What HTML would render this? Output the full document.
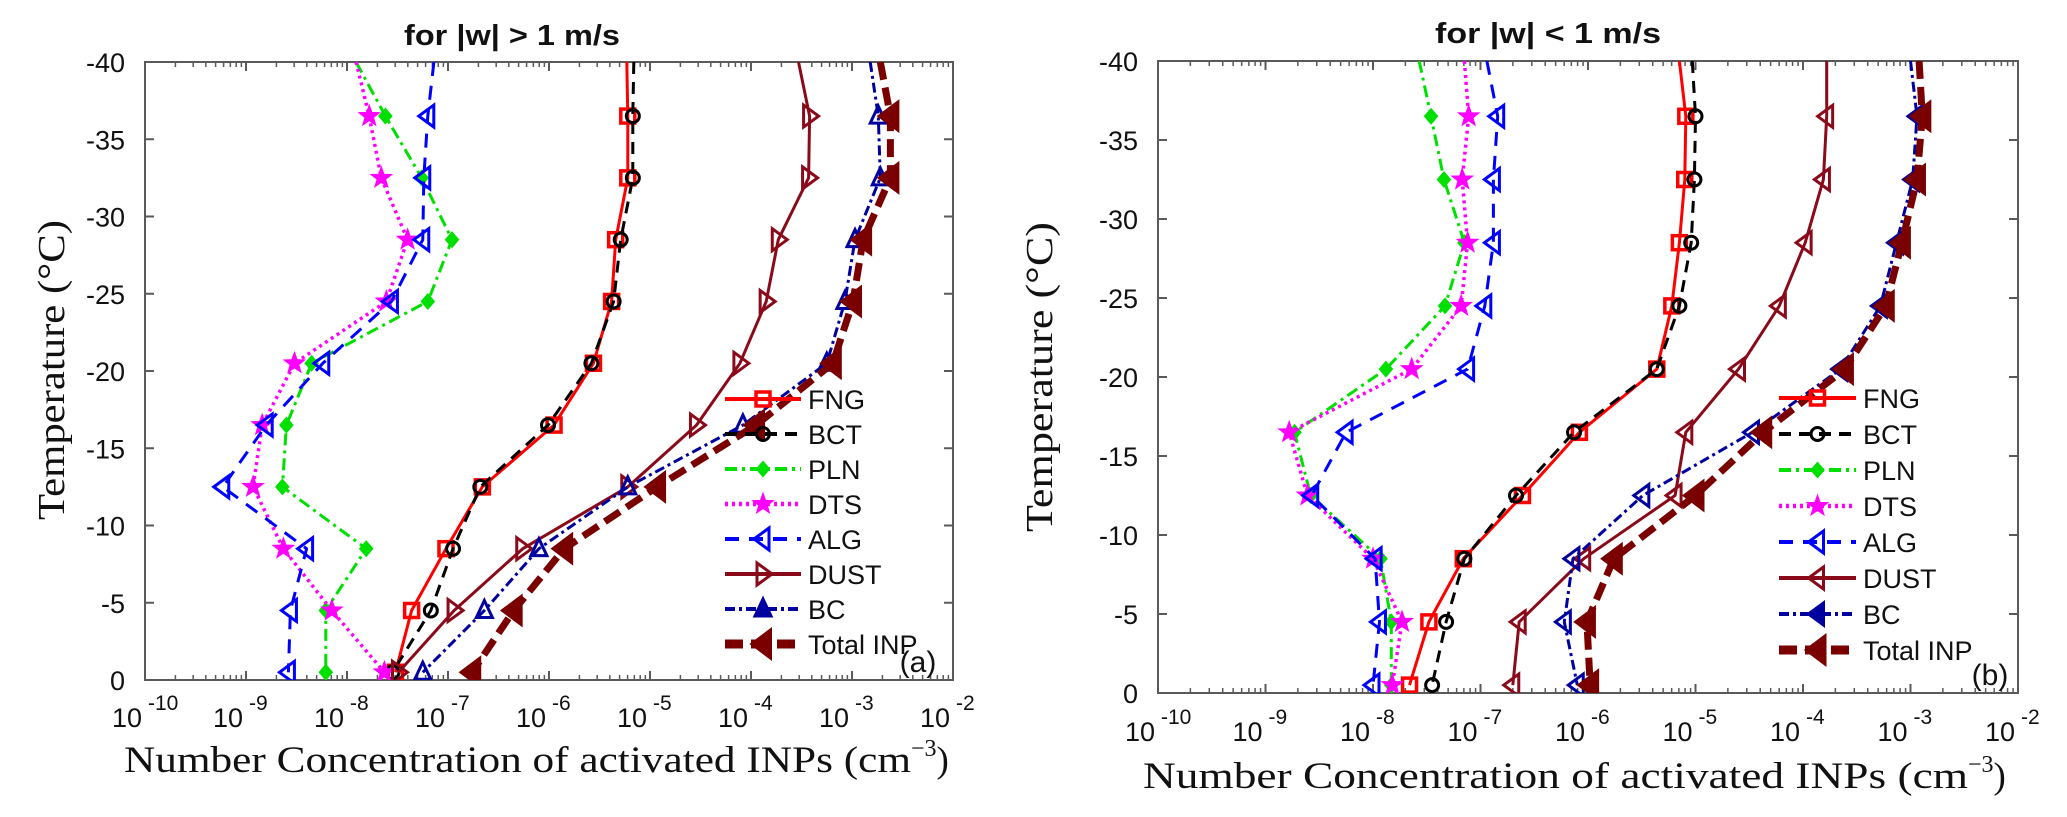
<!DOCTYPE html>
<html><head><meta charset="utf-8"><style>
html,body{margin:0;padding:0;background:#fff;}
svg{display:block;}
text{font-family:"Liberation Sans",sans-serif;}
.serif{font-family:"Liberation Serif",serif;}
</style></head><body>
<svg id="chart" width="2067" height="817" viewBox="0 0 2067 817" xmlns="http://www.w3.org/2000/svg"></svg>
<script>
// Temperatures (°C); first entry = line extending to top border (no marker)
const temps = [-40, -36.5, -32.5, -28.5, -24.5, -20.5, -16.5, -12.5, -8.5, -4.5, -0.5];
const yTicks = [-40, -35, -30, -25, -20, -15, -10, -5, 0];
const xTickExps = [-10, -9, -8, -7, -6, -5, -4, -3, -2];
const seriesNames = ["FNG", "BCT", "PLN", "DTS", "ALG", "DUST", "BC", "Total INP"];
// Panel (a) log10 concentrations
const aFNG  = [-5.23,-5.22,-5.22,-5.34,-5.38,-5.56,-5.95,-6.66,-7.02,-7.36,-7.52];
const aBCT  = [-5.16,-5.17,-5.17,-5.29,-5.36,-5.58,-6.01,-6.68,-6.95,-7.17,-7.55];
const aPLN  = [-7.91,-7.62,-7.26,-6.96,-7.20,-8.35,-8.60,-8.64,-7.81,-8.21,-8.21];
const aDTS  = [-7.91,-7.78,-7.66,-7.40,-7.61,-8.52,-8.84,-8.93,-8.63,-8.15,-7.63];
const aALG  = [-7.14,-7.20,-7.24,-7.25,-7.56,-8.24,-8.80,-9.23,-8.40,-8.56,-8.58];
const aDUST = [-3.53,-3.42,-3.43,-3.73,-3.85,-4.11,-4.54,-5.22,-6.26,-6.94,-7.49];
const aBC   = [-2.82,-2.74,-2.72,-2.97,-3.07,-3.25,-4.08,-5.22,-6.10,-6.64,-7.25];
const aTOT  = [-2.72,-2.62,-2.62,-2.89,-2.99,-3.19,-3.95,-4.93,-5.85,-6.35,-6.76];
// Panel (b)
const bFNG  = [-5.15,-5.09,-5.10,-5.15,-5.22,-5.36,-6.08,-6.61,-7.16,-7.48,-7.66];
const bBCT  = [-5.03,-5.00,-5.01,-5.04,-5.15,-5.36,-6.13,-6.67,-7.15,-7.32,-7.45];
const bPLN  = [-7.57,-7.46,-7.34,-7.15,-7.33,-7.88,-8.73,-8.58,-7.93,-7.83,-7.83];
const bDTS  = [-7.15,-7.11,-7.17,-7.12,-7.18,-7.64,-8.78,-8.61,-8.00,-7.73,-7.82];
const bALG  = [-6.94,-6.84,-6.88,-6.88,-6.96,-7.12,-8.25,-8.57,-7.98,-7.94,-8.00];
const bDUST = [-3.78,-3.78,-3.81,-3.98,-4.22,-4.60,-5.09,-5.19,-6.04,-6.64,-6.70];
const bBC   = [-3.00,-2.94,-2.98,-3.13,-3.28,-3.65,-4.47,-5.49,-6.14,-6.22,-6.10];
const bTOT  = [-2.92,-2.89,-2.94,-3.08,-3.23,-3.61,-4.37,-5.00,-5.76,-6.01,-5.98];

const NS="http://www.w3.org/2000/svg";
const svg=document.getElementById('chart');
function mk(tag,attrs,parent){const e=document.createElementNS(NS,tag);for(const k in attrs)e.setAttribute(k,attrs[k]);(parent||svg).appendChild(e);return e;}

const styles={
 "FNG":{c:"#ff0000",w:3,d:"",m:"square",f:false},
 "BCT":{c:"#000000",w:3,d:"12,8",m:"circle",f:false},
 "PLN":{c:"#00e000",w:3,d:"12,5,3,5",m:"diamond",f:true},
 "DTS":{c:"#ff00ff",w:3.5,d:"3,4",m:"star",f:true},
 "ALG":{c:"#0000ff",w:3,d:"14,10",m:"tri<",f:false},
 "DUST":{c:"#8b0a1a",w:3,d:"",m:"tri>",f:false},
 "BC":{c:"#0000a0",w:3,d:"10,4,3,4",m:"tri^",f:false},
 "Total INP":{c:"#7a0000",w:7,d:"18,8",m:"bigtri<",f:true}
};

function marker(g,type,x,y,c,filled,name){
  let e;
  const fill=filled?c:"none";
  if(type==="square"){e=mk('rect',{x:x-7,y:y-7,width:14,height:14,fill:"none",stroke:c,'stroke-width':3.5},g);}
  else if(type==="circle"){e=mk('circle',{cx:x,cy:y,r:6.5,fill:"none",stroke:c,'stroke-width':3},g);}
  else if(type==="diamond"){e=mk('polygon',{points:`${x},${y-7} ${x+6},${y} ${x},${y+7} ${x-6},${y}`,fill:c,stroke:c,'stroke-width':2},g);}
  else if(type==="star"){let p=[];for(let i=0;i<10;i++){const r=i%2?4.5:11;const a=-Math.PI/2+i*Math.PI/5;p.push((x+r*Math.cos(a)).toFixed(1)+","+(y+r*Math.sin(a)).toFixed(1));}
    e=mk('polygon',{points:p.join(' '),fill:c,stroke:c,'stroke-width':1},g);}
  else if(type==="tri<"){e=mk('polygon',{points:`${x-9},${y} ${x+6},${y-11} ${x+6},${y+11}`,fill:fill,stroke:c,'stroke-width':3},g);}
  else if(type==="tri>"){e=mk('polygon',{points:`${x+9},${y} ${x-6},${y-11} ${x-6},${y+11}`,fill:fill,stroke:c,'stroke-width':3},g);}
  else if(type==="tri^"){e=mk('polygon',{points:`${x},${y-10} ${x-8},${y+7} ${x+8},${y+7}`,fill:fill,stroke:c,'stroke-width':3},g);}
  else if(type==="bigtri<"){e=mk('polygon',{points:`${x-12},${y} ${x+8},${y-15} ${x+8},${y+15}`,fill:c,stroke:c,'stroke-width':2},g);}
  
  
}

function panel(cfg){
  const {id,L,R,T,B,title,titleX,titleY,titleLen,series,legX1,legX2,legY0,legDy,letter,letterX,letterY,ytitleX,ytitleY,ytitleLen,xtitleX,xtitleY,xtitleLen,tickBase}=cfg;
  const g=mk('g',{});
  
  
  const dec=(R-L)/8;
  const xs=v=>L+(v+10)*dec;
  const ys=t=>T+(t+40)/40*(B-T);
  const clipId='clip-'+id;
  const cp=mk('clipPath',{id:clipId},g);mk('rect',{x:L,y:T,width:R-L,height:B-T},cp);
  const box=mk('rect',{x:L,y:T,width:R-L,height:B-T,fill:"none",stroke:"#5a5a5a",'stroke-width':2},g);
  
  
  xTickExps.forEach((e,i)=>{
    const x=xs(e);
    [[B,-1],[T,1]].forEach(([y0,s])=>{mk('line',{x1:x,x2:x,y1:y0,y2:y0+s*9,stroke:"#5a5a5a",'stroke-width':2},g);});
    if(i<xTickExps.length-1){for(let k=2;k<10;k++){const xm=xs(e+Math.log10(k));
      [[B,-1],[T,1]].forEach(([y0,s])=>{mk('line',{x1:xm,x2:xm,y1:y0,y2:y0+s*5,stroke:"#5a5a5a",'stroke-width':1.5},g);});}}
    const t=mk('text',{x:x-3,y:tickBase,'font-size':27,'text-anchor':'end',fill:'#111'},g);
    t.textContent='10';
    
    
    const s=mk('text',{x:x+3,y:tickBase-17,'font-size':21,'text-anchor':'start',fill:'#111'},g);
    s.textContent=String(e);
    
    
  });
  yTicks.forEach(tv=>{
    const y=ys(tv);
    mk('line',{x1:L,x2:L+9,y1:y,y2:y,stroke:"#5a5a5a",'stroke-width':2},g);
    mk('line',{x1:R,x2:R-9,y1:y,y2:y,stroke:"#5a5a5a",'stroke-width':2},g);
    const t=mk('text',{x:L-20,y:y+10,'font-size':27,'text-anchor':'end',fill:'#111'},g);
    t.textContent=String(tv);
    
    
  });
  const sg=mk('g',{'clip-path':`url(#${clipId})`},g);
  series.forEach(([name,vals,mtype])=>{
    const st=styles[name];
    const pts=vals.map((v,i)=>xs(v).toFixed(1)+","+ys(temps[i]).toFixed(1)).join(' ');
    const pl=mk('polyline',{points:pts,fill:"none",stroke:st.c,'stroke-width':st.w,'stroke-dasharray':st.d,'stroke-linejoin':'round'},sg);
    
    
    vals.forEach((v,i)=>{if(i===0)return;marker(sg,mtype||st.m,xs(v),ys(temps[i]),st.c,st.f,'marker-'+name.toLowerCase().replace(' ','-'));});
  });
  series.forEach(([name,vals,mtype],i)=>{
    const st=styles[name];const y=legY0+i*legDy;
    const lg=mk('g',{},g);
    
    
    mk('line',{x1:legX1,x2:legX2,y1:y,y2:y,stroke:st.c,'stroke-width':name==="Total INP"?9:st.w+1,'stroke-dasharray':st.d},lg);
    marker(lg,mtype||st.m,(legX1+legX2)/2,y,st.c,st.f||(name==="BC"),'legend-marker');
    const t=mk('text',{x:legX2+7,y:y+10,'font-size':27,fill:'#111'},lg);
    t.textContent=name;
  });
  const lt=mk('text',{x:letterX,y:letterY,'font-size':30,'text-anchor':'middle',fill:'#111'},g);
  lt.textContent=letter;
  
  
  const tt=mk('text',{x:titleX,y:titleY,'font-size':29,'font-weight':'bold','text-anchor':'middle',fill:'#111',textLength:titleLen,lengthAdjust:'spacingAndGlyphs'},g);
  tt.textContent=title;
  
  
  const yt=mk('text',{x:ytitleX,y:ytitleY,'font-size':38,'text-anchor':'middle',class:'serif',fill:'#111',textLength:ytitleLen,lengthAdjust:'spacingAndGlyphs',transform:`rotate(-90 ${ytitleX} ${ytitleY})`},g);
  yt.textContent='Temperature (\u00B0C)';
  
  
  const xt=mk('text',{x:xtitleX,y:xtitleY,'font-size':37,class:'serif',fill:'#111'},g);
  xt.innerHTML='<tspan textLength="'+(xtitleLen-62)+'" lengthAdjust="spacingAndGlyphs">Number Concentration of activated INPs (cm</tspan><tspan dy="-16" font-size="24">\u22123</tspan><tspan dy="16">)</tspan>';
  
  
}

panel({id:'a',L:145,R:953,T:62,B:680,title:'for |w| > 1 m/s',titleX:512,titleY:45,titleLen:216,
  series:[["FNG",aFNG],["BCT",aBCT],["PLN",aPLN],["DTS",aDTS],["ALG",aALG],["DUST",aDUST,"tri>"],["BC",aBC,"tri^"],["Total INP",aTOT]],
  legX1:725,legX2:801,legY0:399,legDy:35,letter:'(a)',letterX:918,letterY:672,
  ytitleX:64,ytitleY:370,ytitleLen:300,xtitleX:124,xtitleY:772,xtitleLen:849,tickBase:727});
panel({id:'b',L:1158,R:2018,T:61,B:693,title:'for |w| < 1 m/s',titleX:1548,titleY:43,titleLen:226,
  series:[["FNG",bFNG],["BCT",bBCT],["PLN",bPLN],["DTS",bDTS],["ALG",bALG],["DUST",bDUST,"tri<"],["BC",bBC,"tri<"],["Total INP",bTOT]],
  legX1:1779,legX2:1856,legY0:398,legDy:36,letter:'(b)',letterX:1990,letterY:685,
  ytitleX:1052,ytitleY:377,ytitleLen:310,xtitleX:1143,xtitleY:788,xtitleLen:887,tickBase:741});
</script>
</body></html>
